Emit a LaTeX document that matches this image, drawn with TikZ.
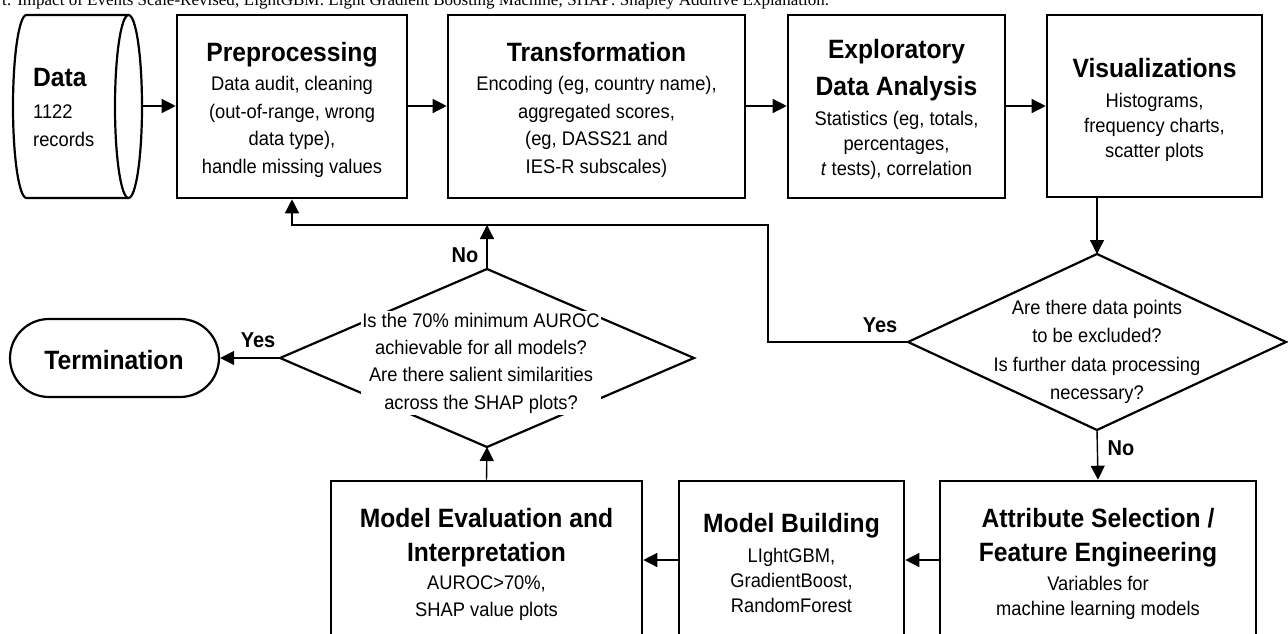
\documentclass[tikz,border=0pt]{standalone}
\usepackage{fontspec}
\setmainfont{Liberation Sans}[FakeStretch=0.93]
\newfontfamily\capfont{Liberation Serif}
\usetikzlibrary{shapes.geometric,arrows.meta}

\newcommand\fsz[2]{\fontsize{#1}{#2}\selectfont}

\tikzset{
  box/.style={draw, line width=2.6pt, rectangle, inner sep=0pt},
  dia/.style={draw, line width=2.2pt, diamond, inner sep=0pt, outer sep=0pt},
  cyl/.style={line width=2.2pt},
  ttl/.style={font=\bfseries\fsz{26.5}{#1}, align=center, inner sep=0pt},
  ttl/.default=35,
  txt/.style={font=\fsz{19.7}{#1}, align=center, inner sep=0pt},
  txt/.default=27.7,
  lbl/.style={font=\bfseries\fsz{21.5}{24}, inner sep=0pt},
  arr/.style={line width=1.4pt, -{Triangle[length=14pt,width=14pt]}},
  ln/.style={line width=1.4pt}
}

\begin{document}
\begin{tikzpicture}[x=1pt, y=-1pt]
\clip (0,0) rectangle (1288,634);
\fill[white] (0,0) rectangle (1288,634);

% caption line above the chart
\node[anchor=base west, inner sep=0pt, font=\capfont\fsz{17}{20}] (caption) at (2,6)
  {t: Impact of Events Scale-Revised; LightGBM: Light Gradient Boosting Machine; SHAP: Shapley Additive Explanation.};

% data source (horizontal cylinder)
\node[rectangle, minimum width=129pt, minimum height=183pt, inner sep=0pt, outer sep=0pt] (data) at (77.5,106.5) {};
\draw[cyl] ([xshift=-13.5pt]data.north east) -- ([xshift=13.5pt]data.north west)
  arc[start angle=90, end angle=270, x radius=13.5pt, y radius=91.5pt]
  -- ([xshift=-13.5pt]data.south east);
\draw[cyl] ([xshift=-13.5pt]data.east) ellipse[x radius=13.5pt, y radius=91.5pt];
\node[ttl, anchor=base west] (datat) at (33,86) {Data};
\node[txt, align=left, anchor=west] (datab) at (33,126) {1122\\records};

% top row of process steps
\node[box, minimum width=230pt, minimum height=183pt] (pre)   at (292,106.5) {};
\node[box, minimum width=297pt, minimum height=183pt] (trans) at (596.5,106.5) {};
\node[box, minimum width=217pt, minimum height=183pt] (eda)   at (896.5,106.5) {};
\node[box, minimum width=215pt, minimum height=182pt] (vis)   at (1154.5,106) {};

\node[ttl, anchor=base] (pret) at (292,61.5) {Preprocessing};
\node[txt] (preb) at (292,127) {Data audit, cleaning\\(out-of-range, wrong\\data type),\\handle missing values};

\node[ttl, anchor=base] (transt) at (596.5,61.5) {Transformation};
\node[txt] (transb) at (596.5,127) {Encoding (eg, country name),\\aggregated scores,\\(eg, DASS21 and\\IES-R subscales)};

\node[ttl=37] (edat) at (896.5,70) {Exploratory\\Data Analysis};
\node[txt=25] (edab) at (896.5,145) {Statistics (eg, totals,\\percentages,\\\textit{t} tests), correlation};

\node[ttl, anchor=base] (vist) at (1154.5,77.5) {Visualizations};
\node[txt=25] (visb) at (1154.5,127) {Histograms,\\frequency charts,\\scatter plots};

% decisions
\node[dia, minimum width=378pt, minimum height=176pt] (dec1) at (1097,342) {};
\node[txt=28.3] (dec1t) at (1097,352) {Are there data points\\to be excluded?\\Is further data processing\\necessary?};

\node[dia, minimum width=414pt, minimum height=178pt] (dec2) at (487,358) {};
\node[txt=27.3, fill=white, inner sep=1.5pt] (dec2t) at (481,363) {Is the 70\% minimum AUROC\\achievable for all models?\\Are there salient similarities\\across the SHAP plots?};

% end state
\node[draw, line width=2.2pt, rectangle, rounded corners=39pt, minimum width=209pt, minimum height=78pt, inner sep=0pt] (term) at (114.5,358) {};
\node[ttl, anchor=base] (termt) at (114,369.5) {Termination};

% bottom row of modelling steps
\node[box, minimum width=316pt, minimum height=172pt] (attr) at (1098,567) {};
\node[box, minimum width=225pt, minimum height=172pt] (mb)   at (791.5,567) {};
\node[box, minimum width=311pt, minimum height=172pt] (me)   at (486.5,567) {};

\node[ttl=34] (attrt) at (1098,537.5) {Attribute Selection /\\Feature Engineering};
\node[txt=25] (attrb) at (1098,597.5) {Variables for\\machine learning models};

\node[ttl, anchor=base] (mbt) at (791.5,532.5) {Model Building};
\node[txt=25] (mbb) at (791.5,580) {LIghtGBM,\\GradientBoost,\\RandomForest};

\node[ttl=34] (met) at (486.5,537.5) {Model Evaluation and\\Interpretation};
\node[txt=27] (meb) at (486.5,598.5) {AUROC>70\%,\\SHAP value plots};

% connectors
\coordinate (rowa) at (0,106);
\coordinate (rowb) at (0,560);
\coordinate (loop) at (768,225);

\draw[arr] (data.east |- rowa) -- (pre.west |- rowa);
\draw[arr] (pre.east |- rowa) -- (trans.west |- rowa);
\draw[arr] (trans.east |- rowa) -- (eda.west |- rowa);
\draw[arr] (eda.east |- rowa) -- (vis.west |- rowa);
\draw[arr] (dec1.north |- vis.south) -- (dec1.north);
\draw[arr] (dec1.west) -| (loop) -| (pre.south);
\draw[arr] (dec1.south) -- (attr.north);
\draw[arr] (attr.west |- rowb) -- (mb.east |- rowb);
\draw[arr] (mb.west |- rowb) -- (me.east |- rowb);
\draw[arr] (me.north) -- (dec2.south);
\draw[arr] (dec2.north) -- (dec2.north |- loop);
\draw[arr] (dec2.west) -- (term.east);

\node[lbl] (yes1) at (880,325) {Yes};
\node[lbl] (no1)  at (1121,448) {No};
\node[lbl] (no2)  at (465,255) {No};
\node[lbl] (yes2) at (258,340) {Yes};
\end{tikzpicture}
\end{document}
